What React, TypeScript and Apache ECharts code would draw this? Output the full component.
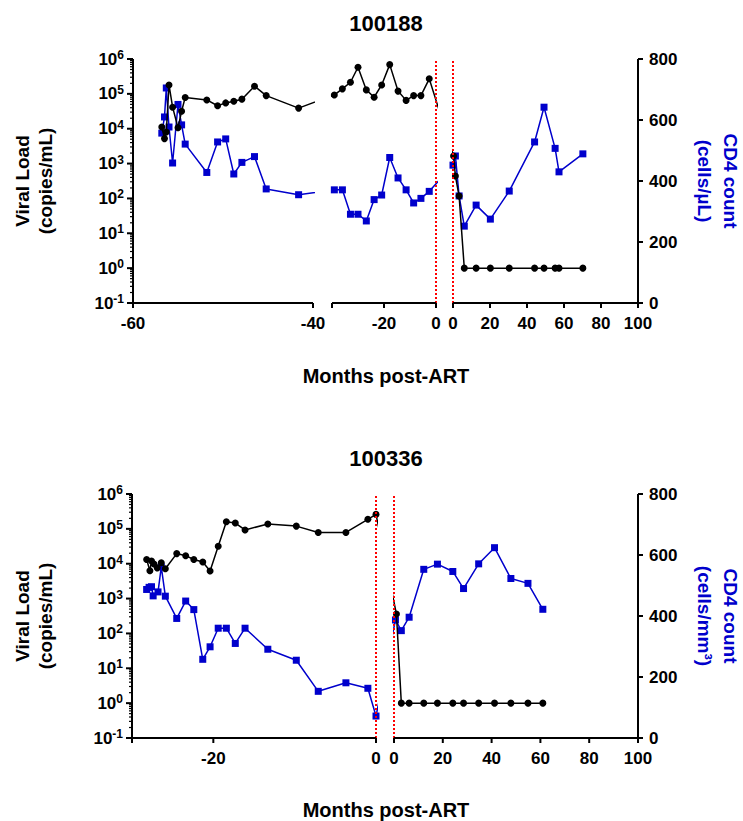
import React, { useEffect, useRef } from 'react';
import * as echarts from 'echarts';

// ---------- Patient 100188 ----------
const p1Title = '100188';
const p1PreVLMonths = [-56.8, -56.5, -56.3, -56.0, -55.6, -55.0, -54.6, -54.2, -51.8, -50.6, -49.7, -48.8, -47.9, -46.5, -45.2, -41.6, -39.1, -36.0, -32.9, -30.0, -26.8, -23.8, -20.9, -17.8, -14.6, -11.5, -8.6, -5.8, -2.6];
const p1PreVL = [11200, 5200, 8000, 180000, 41500, 10700, 31600, 79000, 67000, 45500, 55000, 61500, 70500, 166000, 89000, 39000, 93000, 139000, 215000, 580000, 130000, 80000, 180000, 690000, 120000, 65000, 89000, 89000, 270000];
const p1PreCD4Months = [-56.8, -56.5, -56.3, -56.0, -55.6, -55.0, -54.6, -54.2, -51.8, -50.6, -49.7, -48.8, -47.9, -46.5, -45.2, -41.6, -39.1, -36.0, -32.9, -30.0, -26.8, -23.8, -20.9, -17.8, -14.6, -11.5, -8.6, -5.8, -2.6];
const p1PreCD4 = [557, 610, 705, 577, 459, 651, 584, 521, 428, 528, 538, 423, 461, 480, 374, 355, 371, 371, 291, 291, 269, 339, 354, 477, 410, 371, 328, 343, 366];
const p1PostVLMonths = [0.3, 1.3, 3.3, 6.1, 12.5, 20.2, 30.4, 44.1, 49.2, 55.2, 57.3, 70.2];
const p1PostVL = [1650, 440, 117, 1, 1, 1, 1, 1, 1, 1, 1, 1];
const p1PostCD4Months = [0, 1.3, 3.3, 6.1, 12.5, 20.2, 30.4, 44.1, 49.2, 55.2, 57.3, 70.2];
const p1PostCD4 = [452, 482, 351, 252, 321, 275, 367, 528, 642, 507, 430, 489];
const p1CD4Name = 'CD4 count\n(cells/µL)';
const p1XTicks = [[-60, -40], [-20, 0], [0, 20, 40, 60, 80, 100]];

// ---------- Patient 100336 ----------
const p2Title = '100336';
const p2PreVLMonths = [-28.2, -27.8, -27.6, -27.3, -26.9, -26.4, -25.9, -24.5, -23.4, -22.4, -21.3, -20.4, -19.4, -18.4, -17.3, -16.1, -13.3, -9.8, -7.1, -3.7, -1.0, 0];
const p2PreVL = [13200, 6300, 12000, 9800, 7600, 10700, 7200, 19500, 17000, 13200, 11200, 6200, 31600, 160000, 147000, 93000, 138000, 120000, 79000, 79000, 188000, 260000];
const p2PreCD4Months = [-28.2, -27.9, -27.6, -27.4, -26.8, -26.4, -25.9, -24.5, -23.4, -22.4, -21.3, -20.4, -19.4, -18.4, -17.3, -16.1, -13.3, -9.8, -7.1, -3.7, -1.0, 0];
const p2PreCD4 = [487, 494, 496, 466, 479, 561, 465, 392, 449, 421, 258, 299, 360, 360, 310, 360, 291, 255, 153, 181, 163, 72];
const p2PostVLMonths = [1.0, 3.0, 6.2, 12.2, 17.8, 24.1, 28.5, 34.7, 41.2, 47.9, 54.9, 61.0];
const p2PostVL = [360, 1, 1, 1, 1, 1, 1, 1, 1, 1, 1, 1];
const p2PostCD4Months = [0.6, 3.0, 6.2, 12.2, 17.8, 24.1, 28.5, 34.7, 41.2, 47.9, 54.9, 61.0];
const p2PostCD4 = [387, 352, 396, 553, 570, 546, 490, 571, 624, 523, 507, 422];
const p2CD4Name = 'CD4 count\n(cells/mm³)';
const p2XTicks = [[-20, 0], [0, 20, 40, 60, 80, 100]];

const xAxisName = 'Months post-ART';
const vlAxisName = 'Viral Load\n(copies/mL)';
const cd4Ticks = [0, 200, 400, 600, 800];
const vlExponents = [-1, 0, 1, 2, 3, 4, 5, 6];

const FONT = '"Liberation Sans", Arial, Helvetica, sans-serif';
const BLUE = '#0000cc';
const BLACK = '#000000';

type Seg = { left: number; width: number; min: number; max: number; interval: number; ticks: number[] };
type Pt = { x: number; y: number; s: number };

function buildOption() {
  const panels = [
    {
      top: 59, height: 244, titleY: 23, xNameY: 376, cd4Name: p1CD4Name, title: p1Title,
      segs: [
        { left: 133, width: 180, min: -60, max: -40, interval: 20, ticks: p1XTicks[0] },
        { left: 332, width: 104, min: -40, max: 0, interval: 20, ticks: p1XTicks[1] },
        { left: 453, width: 185, min: 0, max: 100, interval: 20, ticks: p1XTicks[2] },
      ] as Seg[],
      vl: [p1PreVLMonths, p1PreVL, p1PostVLMonths, p1PostVL],
      cd4: [p1PreCD4Months, p1PreCD4, p1PostCD4Months, p1PostCD4],
    },
    {
      top: 494, height: 244, titleY: 458, xNameY: 810, cd4Name: p2CD4Name, title: p2Title,
      segs: [
        { left: 132, width: 244, min: -30, max: 0, interval: 10, ticks: p2XTicks[0] },
        { left: 394, width: 244, min: 0, max: 100, interval: 20, ticks: p2XTicks[1] },
      ] as Seg[],
      vl: [p2PreVLMonths, p2PreVL, p2PostVLMonths, p2PostVL],
      cd4: [p2PreCD4Months, p2PreCD4, p2PostCD4Months, p2PostCD4],
    },
  ];

  const grid: any[] = [];
  const xAxis: any[] = [];
  const yAxis: any[] = [];
  const series: any[] = [];
  const graphic: any[] = [];

  const labelStyle = { fontSize: 17, fontWeight: 'bold', fontFamily: FONT, color: BLACK };
  const noLine = { show: false, onZero: false };
  const noTick = { show: false };

  // axis frame pieces (lines and ticks) placed from the grid geometry
  const frame = (x1: number, y1: number, x2: number, y2: number, w = 2) =>
    graphic.push({
      type: 'line', silent: true, z: 100,
      shape: { x1, y1, x2, y2 },
      style: { stroke: BLACK, lineWidth: w, lineCap: 'butt' },
    });

  panels.forEach((panel) => {
    const segs = panel.segs;
    const nSeg = segs.length;
    const T = panel.top;
    const H = panel.height;
    const B = T + H;
    const assignPre = (x: number) => {
      for (let i = 0; i < nSeg - 1; i++) if (x <= segs[i].max) return i;
      return nSeg - 2;
    };
    const makePts = (arr: number[][]): Pt[] => [
      ...arr[0].map((x, i) => ({ x, y: arr[1][i], s: assignPre(x) })),
      ...arr[2].map((x, i) => ({ x, y: arr[3][i], s: nSeg - 1 })),
    ];
    const toScreen = (s: number, x: number) => segs[s].left + ((x - segs[s].min) / (segs[s].max - segs[s].min)) * segs[s].width;
    const fromScreen = (s: number, px: number) => segs[s].min + ((px - segs[s].left) / segs[s].width) * (segs[s].max - segs[s].min);
    const segData = (pts: Pt[], s: number) => {
      const idx = pts.map((p, i) => (p.s === s ? i : -1)).filter((i) => i >= 0);
      if (!idx.length) return [];
      const out: number[][] = [];
      const ghost = (p: Pt) => [fromScreen(s, toScreen(p.s, p.x)), p.y];
      const first = idx[0];
      const last = idx[idx.length - 1];
      if (first > 0) out.push(ghost(pts[first - 1]));
      idx.forEach((i) => out.push([pts[i].x, pts[i].y]));
      if (last < pts.length - 1) out.push(ghost(pts[last + 1]));
      return out;
    };
    const vlPts = makePts(panel.vl);
    const cd4Pts = makePts(panel.cd4);

    segs.forEach((seg, s) => {
      const g = grid.length;
      const L = seg.left;
      const R = seg.left + seg.width;
      grid.push({ left: L, width: seg.width, top: T, height: H });
      const tickSet = seg.ticks;
      xAxis.push({
        type: 'value', gridIndex: g, min: seg.min, max: seg.max, interval: seg.interval, position: 'bottom',
        axisLine: noLine, axisTick: noTick, splitLine: { show: false },
        axisLabel: { ...labelStyle, margin: 12, formatter: (v: number) => (tickSet.indexOf(v) >= 0 ? String(v) : '') },
      });
      const yLog = yAxis.length;
      yAxis.push({
        type: 'log', logBase: 10, gridIndex: g, min: 0.1, max: 1000000, splitNumber: 7,
        position: 'left', show: s === 0,
        axisLine: noLine, axisTick: noTick, splitLine: { show: false },
        axisLabel: {
          margin: 9,
          formatter: (v: number) => `{b|10}{s|${Math.round(Math.log10(v))}}`,
          rich: {
            b: { fontSize: 17, fontWeight: 'bold', fontFamily: FONT, color: BLACK, lineHeight: 20 },
            s: { fontSize: 12, fontWeight: 'bold', fontFamily: FONT, color: BLACK, lineHeight: 12, verticalAlign: 'top' },
          },
        },
      });
      const yCd4 = yAxis.length;
      yAxis.push({
        type: 'value', gridIndex: g, min: 0, max: 800, interval: 200,
        position: 'right', show: s === nSeg - 1,
        axisLine: noLine, axisTick: noTick, splitLine: { show: false },
        axisLabel: { ...labelStyle, margin: 11 },
      });

      // x axis line and ticks of this segment
      frame(L - (s === 0 ? 1 : 0), B, R + (s === nSeg - 1 ? 1 : 0), B);
      Array.from(new Set([seg.min, ...tickSet, seg.max])).forEach((v) => {
        const px = toScreen(s, v);
        frame(px, B, px, B + 5);
      });
      // left log axis with log-spaced minor ticks
      if (s === 0) {
        frame(L, B + 3, L, T);
        vlExponents.forEach((e) => {
          const py = B - ((e + 1) / 7) * H;
          frame(L - 6, py, L, py);
          if (e < 6) {
            for (let k = 2; k <= 9; k++) {
              const my = B - ((Math.log10(k) + e + 1) / 7) * H;
              frame(L - 3, my, L, my, 1.2);
            }
          }
        });
      }
      // right CD4 axis
      if (s === nSeg - 1) {
        frame(R, B, R, T);
        cd4Ticks.forEach((v) => {
          const py = B - (v / 800) * H;
          frame(R, py, R + 5, py);
        });
      }

      series.push({
        type: 'line', xAxisIndex: g, yAxisIndex: yCd4, data: segData(cd4Pts, s),
        symbol: 'rect', symbolSize: 7, showAllSymbol: true, clip: true, silent: true, z: 2,
        itemStyle: { color: BLUE }, lineStyle: { color: BLUE, width: 1.5 },
      });
      const isBreak = (s === nSeg - 2 && seg.max === 0) || (s === nSeg - 1 && seg.min === 0);
      series.push({
        type: 'line', xAxisIndex: g, yAxisIndex: yLog, data: segData(vlPts, s),
        symbol: 'circle', symbolSize: 7, showAllSymbol: true, clip: true, silent: true, z: 3,
        itemStyle: { color: BLACK }, lineStyle: { color: BLACK, width: 1.5 },
        markLine: isBreak ? {
          silent: true, symbol: ['none', 'none'], label: { show: false },
          lineStyle: { color: '#ff0000', type: 'dotted', width: 2 },
          data: [{ xAxis: 0 }],
        } : undefined,
      });
    });

    const plotMid = T + H / 2;
    const centerX = 386;
    graphic.push(
      { type: 'text', x: centerX, y: panel.titleY, style: { text: panel.title, font: `bold 22px ${FONT}`, fill: BLACK, align: 'center', verticalAlign: 'middle' } },
      { type: 'text', x: centerX, y: panel.xNameY, style: { text: xAxisName, font: `bold 20px ${FONT}`, fill: BLACK, align: 'center', verticalAlign: 'middle' } },
      { type: 'text', x: 34, y: plotMid, rotation: Math.PI / 2, style: { text: vlAxisName, font: `bold 19px ${FONT}`, lineHeight: 23, fill: BLACK, align: 'center', verticalAlign: 'middle' } },
      { type: 'text', x: 717, y: plotMid, rotation: -Math.PI / 2, style: { text: panel.cd4Name, font: `bold 19px ${FONT}`, lineHeight: 26, fill: BLUE, align: 'center', verticalAlign: 'middle' } },
    );
  });

  return { animation: false, grid, xAxis, yAxis, series, graphic };
}

export default function App() {
  const ref = useRef<HTMLDivElement>(null);
  useEffect(() => {
    if (!ref.current) return;
    const chart = echarts.init(ref.current, null, { renderer: 'svg', width: 743, height: 821 });
    chart.setOption(buildOption() as any);
    return () => chart.dispose();
  }, []);
  return <div ref={ref} style={{ position: 'fixed', left: 0, top: 0, width: 743, height: 821, background: '#fff' }} />;
}
